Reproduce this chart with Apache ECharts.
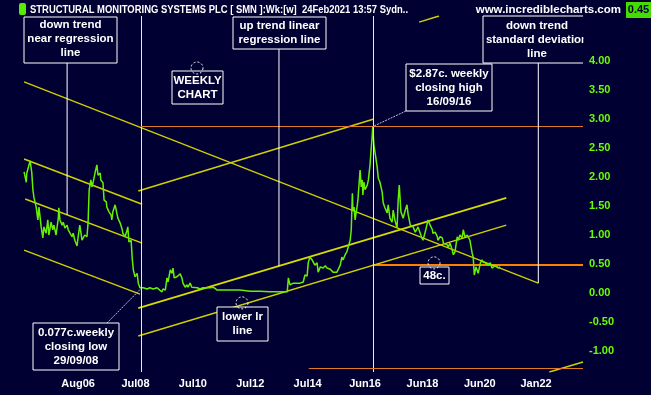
<!DOCTYPE html>
<html><head><meta charset="utf-8">
<script src="https://cdn.jsdelivr.net/npm/echarts@6/dist/echarts.min.js"></script>
<style>html,body{margin:0;padding:0;background:#000033;}#c{width:651px;height:395px;}</style>
</head><body><div id="c"></div>
<script>
// x axis unit: weeks from the left edge of the chart
const tickWeeks = [138, 242, 346, 450, 554, 658, 762, 866, 968];
const tickLabels = ['Aug06', 'Jul08', 'Jul10', 'Jul12', 'Jul14', 'Jun16', 'Jun18', 'Jun20', 'Jan22'];
const yTicks = [-1, -0.5, 0, 0.5, 1, 1.5, 2, 2.5, 3, 3.5, 4];
const xRange = [0, 1053];
const yRange = [-1.362, 4.776];

const priceWeek = [40,44,45,51,54,56,58,62,65,67,71,74,76,80,83,85,89,92,94,98,102,103,105,109,111,114,118,120,123,127,129,132,136,138,141,145,147,150,154,156,158,161,163,165,169,172,174,178,179,183,185,189,190,194,198,199,201,205,208,210,214,218,219,223,227,228,230,234,236,238,241,245,247,250,252,256,263,268,274,281,286,290,292,296,299,301,305,308,310,312,317,319,323,326,328,332,335,337,341,344,346,354,359,364,372,377,383,390,401,413,431,450,468,486,504,517,519,522,528,535,540,546,549,553,555,558,562,564,567,571,573,577,580,582,586,589,591,595,598,600,607,609,613,616,618,622,625,627,631,633,635,636,638,640,644,645,649,651,653,654,656,658,662,664,667,669,671,672,674,676,680,682,685,689,691,694,698,700,703,707,709,712,716,718,720,723,725,727,731,734,736,740,745,749,752,754,758,761,763,767,771,772,776,780,781,785,789,790,794,798,800,803,807,809,812,816,818,821,825,827,830,834,836,839,843,845,848,852,854,856,859,861,863,867,870,872,876,879,881,885,888,890,894,897,899,903];
const priceClose = [2.09,1.91,2.07,2.28,2.07,1.78,1.64,1.48,1.26,1.48,1.14,0.95,1.14,1.03,1.26,1.00,1.22,1.09,1.17,1.00,1.29,1.47,1.26,1.17,1.22,1.12,1.17,1.09,1.12,0.97,1.03,0.91,0.81,0.97,1.17,0.91,0.88,1.00,0.97,1.21,1.78,1.95,1.83,1.90,2.09,2.21,2.03,2.07,1.95,1.90,1.60,1.57,1.48,1.40,1.34,1.26,1.40,1.52,1.52,1.29,1.21,1.09,1.03,0.97,1.09,1.14,0.88,0.91,0.60,0.40,0.28,0.34,0.17,0.09,0.077,0.09,0.07,0.09,0.07,0.09,0.05,0.02,0.07,0.05,0.26,0.19,0.40,0.34,0.43,0.26,0.28,0.31,0.33,0.26,0.17,0.10,0.14,0.10,0.17,0.10,0.09,0.09,0.07,0.09,0.09,0.09,0.10,0.05,0.05,0.05,0.05,0.03,0.03,0.02,0.02,0.02,0.26,0.14,0.17,0.17,0.17,0.19,0.31,0.29,0.52,0.62,0.57,0.60,0.48,0.52,0.36,0.45,0.48,0.43,0.47,0.43,0.45,0.41,0.43,0.36,0.36,0.40,0.48,0.62,0.57,0.66,0.71,0.74,0.91,1.09,1.72,1.43,1.48,1.26,1.52,1.60,2.12,1.83,1.95,1.69,1.91,1.78,1.86,1.95,2.21,2.47,2.72,2.87,2.55,2.43,2.17,1.98,1.91,1.74,1.55,1.47,1.38,1.52,1.29,1.22,1.43,1.26,1.12,1.60,1.86,1.40,1.43,1.29,1.43,1.52,1.36,1.17,1.14,1.05,1.10,1.14,1.03,0.95,0.91,1.05,1.21,1.26,1.17,1.09,1.03,1.05,0.97,0.91,0.97,0.95,0.86,0.88,0.83,0.79,0.86,0.74,0.66,0.71,0.97,0.91,1.00,0.95,1.09,0.97,1.00,0.97,0.91,0.69,0.62,0.31,0.45,0.48,0.34,0.52,0.57,0.53,0.52,0.53,0.48,0.52,0.43,0.45,0.48,0.45,0.43,0.45];

const lowWeek = 252, lowClose = 0.077;     // 29/09/08
const highWeek = 672, highClose = 2.87;    // 16/09/16
const supportLevel = 0.48;
const bottomLevel = -1.29, bottomLevelStart = 556;

const downLong   = [[40, 3.64], [972, 0.17]];
const downUpper  = [[40, 2.31], [254, 1.53]];
const downMiddle = [[42, 1.62], [254, 0.86]];
const downLower  = [[40, 0.74], [250, -0.02]];
const upTop      = [[247, 1.76], [674, 3.00]];
const upMiddle   = [[247, -0.26], [914, 1.64]];
const upLower    = [[247, -0.74], [914, 1.17]];
const sdTopPart  = [[756, 4.67], [792, 4.776]];
const sdLowPart  = [[992, -1.362], [1053, -1.19]];

const FONT = '"Liberation Sans", Arial, sans-serif';
const chart = echarts.init(document.getElementById('c'));

function seg(data, color, width, extra) {
  return Object.assign({ type: 'line', data: data, symbol: 'none', silent: true, animation: false,
    lineStyle: { color: color, width: width } }, extra || {});
}
const ML = { symbol: 'none', silent: true, animation: false, label: { show: false } };

chart.setOption({
  animation: false,
  backgroundColor: '#000033',
  grid: { left: 2, right: 68, top: 16, bottom: 23, containLabel: false, outerBoundsMode: 'none' },
  xAxis: {
    type: 'value', min: xRange[0], max: xRange[1],
    axisLine: { show: false }, axisTick: { show: false }, splitLine: { show: false },
    axisLabel: {
      customValues: tickWeeks,
      formatter: v => tickLabels[tickWeeks.indexOf(v)] || '',
      color: '#ffffff', fontWeight: 'bold', fontSize: 11, fontFamily: FONT, margin: 6
    }
  },
  yAxis: {
    type: 'value', position: 'right', min: yRange[0], max: yRange[1],
    axisLine: { show: false }, axisTick: { show: false }, splitLine: { show: false },
    axisLabel: {
      customValues: yTicks,
      formatter: v => Number(v).toFixed(2),
      color: '#66ff00', fontWeight: 'bold', fontSize: 11, fontFamily: FONT, margin: 6, align: 'left'
    }
  },
  series: [
    seg(downLong, '#d0d000', 1.3, { markLine: Object.assign({}, ML, {
      lineStyle: { color: '#ffff50', width: 1, type: 'solid' },
      data: [{ xAxis: lowWeek }, { xAxis: highWeek }] }) }),
    seg(downUpper, '#d0d000', 1.5, { markLine: Object.assign({}, ML, {
      lineStyle: { color: '#e07828', width: 1, type: 'solid' },
      data: [[{ coord: [lowWeek, highClose] }, { coord: [xRange[1], highClose] }],
             [{ coord: [bottomLevelStart, bottomLevel] }, { coord: [xRange[1], bottomLevel] }]] }) }),
    seg(downMiddle, '#d0d000', 1.5),
    seg(downLower, '#d0d000', 1.5),
    seg(upTop, '#d0d000', 1.5),
    seg(upMiddle, '#dada00', 1.7),
    seg(upLower, '#d0d000', 1.5),
    seg(sdTopPart, '#d0d000', 1.5),
    seg(sdLowPart, '#d0d000', 1.5),
    {
      type: 'line', symbol: 'none', silent: true, animation: false, z: 3,
      data: priceWeek.map((w, i) => [w, priceClose[i]]),
      lineStyle: { color: '#66f000', width: 1.5 },
      markLine: Object.assign({}, ML, {
        z: 2,
        lineStyle: { color: '#ff8000', width: 2, type: 'solid' },
        data: [[{ coord: [highWeek, supportLevel] }, { coord: [xRange[1], supportLevel] }]] })
    }
  ]
});

const P = (w, v) => chart.convertToPixel({ gridIndex: 0 }, [w, v]);
const aA = P(118, 1.35);
const aC = P(502, 0.466);
const aE = P(downLong[1][0], downLong[1][1]);
const aLow = P(lowWeek, lowClose);
const aHigh = P(highWeek, highClose);
const aLr = P(435, -0.17);
const a48 = P(783, 0.52);

const measureCtx = document.createElement('canvas').getContext('2d');
function fitScale(s, font, target) {
  measureCtx.font = font;
  const w = measureCtx.measureText(s).width;
  return w > 0 ? target / w : 1;
}

function rect(x, y, w, h) {
  return { type: 'rect', z: 10, shape: { x: x, y: y, width: w, height: h },
    style: { fill: '#000033', stroke: '#ffffff', lineWidth: 1 } };
}
function txt(x, y, s, opt) {
  opt = opt || {};
  return { type: 'text', z: 11, x: x, y: y, scaleX: opt.scaleX || 1,
    style: { text: s, fill: opt.fill || '#ffffff', font: (opt.font || 'bold 11.5px ') + FONT,
      textAlign: opt.align || 'center', textVerticalAlign: 'middle', lineHeight: 14 } };
}
function line(p1, p2, color, dash) {
  return { type: 'line', z: 9, shape: { x1: p1[0], y1: p1[1], x2: p2[0], y2: p2[1] },
    style: { stroke: color, lineWidth: 1, lineDash: dash || null } };
}
function circ(p) {
  return { type: 'circle', z: 12, shape: { cx: p[0], cy: p[1], r: 6 },
    style: { fill: 'none', stroke: '#ffffff', lineWidth: 1, lineDash: [2, 2] } };
}

const titleText = 'STRUCTURAL MONITORING SYSTEMS PLC [ SMN ]:Wk:[w]  24Feb2021 13:57 Sydn..';
const titleScale = fitScale(titleText, 'bold 11px ' + FONT, 378);

chart.setOption({
  graphic: [
    // header
    { type: 'rect', shape: { x: 19, y: 3, width: 7, height: 12, r: 2 }, style: { fill: '#55ee00' } },
    txt(30, 9.5, titleText, { align: 'left', font: 'bold 11px ', scaleX: titleScale }),
    txt(621, 9.5, 'www.incrediblecharts.com', { align: 'right', font: 'bold 11.5px ' }),
    { type: 'rect', shape: { x: 626, y: 2, width: 25, height: 16 }, style: { fill: '#44dd00' } },
    txt(638.5, 10, '0.45', { fill: '#000033', font: 'bold 11px ' }),
    // leaders
    line([aA[0], 63], aA, '#ffffff'),
    line([aC[0], 49], aC, '#ffffff'),
    line([aE[0], 63], aE, '#ffffff'),
    line([406, 111], aHigh, '#c0c0d8', [2, 1]),
    line([107, 323], aLow, '#c0c0d8', [2, 1]),
    // boxes
    rect(24, 17, 93, 46), txt(70.5, 39, 'down trend\nnear regression\nline'),
    rect(172, 71, 51, 33), txt(197.5, 87.5, 'WEEKLY\nCHART'),
    rect(233, 17, 93, 32), txt(279.5, 33, 'up trend linear\nregression line'),
    rect(406, 64, 86, 47), txt(449, 87.5, '$2.87c. weekly\nclosing high\n16/09/16'),
    { type: 'polyline', z: 10, shape: { points: [[583, 16], [483, 16], [483, 63], [583, 63]] },
      style: { fill: '#000033', stroke: '#ffffff', lineWidth: 1 } },
    txt(537, 39.5, 'down trend\nstandard deviation\nline'),
    { type: 'rect', z: 13, shape: { x: 583.5, y: 18, width: 40, height: 34 }, style: { fill: '#000033' } },
    rect(33, 323, 86, 47), txt(76, 346.5, '0.077c.weekly\nclosing low\n29/09/08'),
    rect(217, 307, 51, 34), txt(242.5, 324, 'lower lr\nline'),
    rect(420, 267, 29, 17), txt(434.5, 276, '48c.'),
    // dashed markers
    circ([197, 68]), circ(aLr), circ(a48)
  ]
});
</script></body></html>
